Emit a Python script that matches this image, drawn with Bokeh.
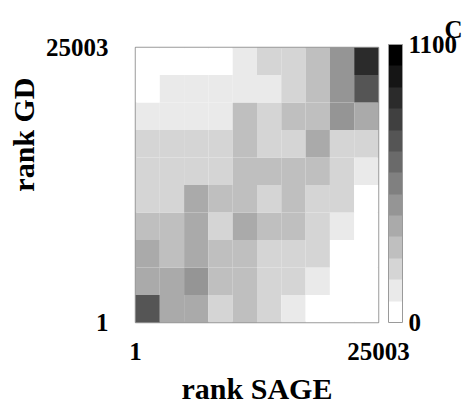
import numpy as np
from bokeh.plotting import figure
from bokeh.models import (ColorBar, LinearColorMapper, FixedTicker, Range1d,
                          ColumnDataSource, Title)
from bokeh.embed import file_html
from bokeh.resources import INLINE

# ---- data -------------------------------------------------------------
rank_min = 1
rank_max = 25003
n_bins = 10

x_tick_labels = ["1", "25003"]
y_tick_labels = ["1", "25003"]
cbar_ticks = [0, 1100]
cbar_low, cbar_high = 0, 1100

# counts per cell; each list is one GD-rank bin (bottom to top),
# values along SAGE-rank bins (left to right)
gd_bin_01 = [728, 372, 365, 214, 283, 226, 132, 58, 35, 22]
gd_bin_02 = [381, 356, 452, 297, 286, 231, 218, 121, 47, 30]
gd_bin_03 = [362, 309, 375, 281, 294, 207, 238, 196, 64, 41]
gd_bin_04 = [318, 275, 368, 211, 359, 292, 277, 222, 143, 52]
gd_bin_05 = [239, 226, 347, 284, 301, 214, 276, 228, 187, 69]
gd_bin_06 = [205, 219, 233, 197, 303, 271, 288, 265, 215, 124]
gd_bin_07 = [186, 201, 210, 224, 296, 192, 238, 364, 208, 181]
gd_bin_08 = [142, 128, 117, 136, 278, 227, 268, 305, 471, 389]
gd_bin_09 = [61, 107, 113, 122, 135, 149, 236, 318, 483, 697]
gd_bin_10 = [18, 27, 39, 46, 104, 213, 249, 301, 468, 883]

rows = [gd_bin_01, gd_bin_02, gd_bin_03, gd_bin_04, gd_bin_05,
        gd_bin_06, gd_bin_07, gd_bin_08, gd_bin_09, gd_bin_10]

# ---- styling ----------------------------------------------------------
FONT = "Liberation Serif"
palette = ["#ffffff", "#eaeaea", "#d5d5d5", "#bfbfbf", "#aaaaaa", "#959595",
           "#808080", "#6a6a6a", "#555555", "#404040", "#2b2b2b", "#151515",
           "#000000"]

edges = np.linspace(rank_min, rank_max, n_bins + 1)
left, right, bottom, top, count = [], [], [], [], []
for j, row in enumerate(rows):
    for i, c in enumerate(row):
        left.append(edges[i]); right.append(edges[i + 1])
        bottom.append(edges[j]); top.append(edges[j + 1])
        count.append(c)
src = ColumnDataSource(dict(left=left, right=right, bottom=bottom, top=top, count=count))

mapper = LinearColorMapper(palette=palette, low=cbar_low, high=cbar_high)

p = figure(width=468, height=407, output_backend="svg", toolbar_location=None,
           x_range=Range1d(rank_min, rank_max), y_range=Range1d(rank_min, rank_max),
           min_border_left=135, min_border_right=90, min_border_top=47,
           min_border_bottom=84)
p.grid.visible = False
p.outline_line_color = "#9a9a9a"
p.outline_line_width = 1.5
p.background_fill_color = "white"

p.quad(left="left", right="right", bottom="bottom", top="top", source=src,
       fill_color={"field": "count", "transform": mapper}, line_color=None)

for ax, labels in ((p.xaxis[0], x_tick_labels), (p.yaxis[0], y_tick_labels)):
    ax.ticker = FixedTicker(ticks=[rank_min, rank_max])
    ax.major_label_overrides = {rank_min: labels[0], rank_max: labels[1]}
    ax.axis_line_color = None
    ax.major_tick_line_color = None
    ax.minor_tick_line_color = None
    ax.major_label_text_font = FONT
    ax.major_label_text_font_style = "bold"
    ax.major_label_text_font_size = "25px"
    ax.major_label_text_color = "black"

p.xaxis.major_label_standoff = 14
p.xaxis.axis_label = "rank SAGE"
p.xaxis.axis_label_standoff = 9
p.xaxis.axis_label_text_font = FONT
p.xaxis.axis_label_text_font_style = "bold"
p.xaxis.axis_label_text_font_size = "30px"
p.xaxis.axis_label_text_color = "black"

p.yaxis.major_label_standoff = 21

ytitle = Title(text="rank GD", align="right", offset=30, standoff=6,
               text_font=FONT, text_font_style="bold", text_font_size="30px",
               text_color="black")
p.add_layout(ytitle, "left")

p.title.text = "C"
p.title.align = "right"
p.title.offset = -84
p.title.text_font = FONT
p.title.text_font_style = "bold"
p.title.text_font_size = "25px"
p.title.text_color = "black"

cbar = ColorBar(color_mapper=mapper, ticker=FixedTicker(ticks=cbar_ticks),
                width=14, height=278, location=(10, 0), margin=0, padding=0,
                bar_line_color="#9a9a9a", border_line_color=None,
                background_fill_color=None, major_tick_line_color=None,
                label_standoff=6, major_label_text_font=FONT,
                major_label_text_font_style="bold",
                major_label_text_font_size="25px",
                major_label_text_color="black")
p.add_layout(cbar, "right")

open("out.html", "w").write(file_html(p, INLINE))
